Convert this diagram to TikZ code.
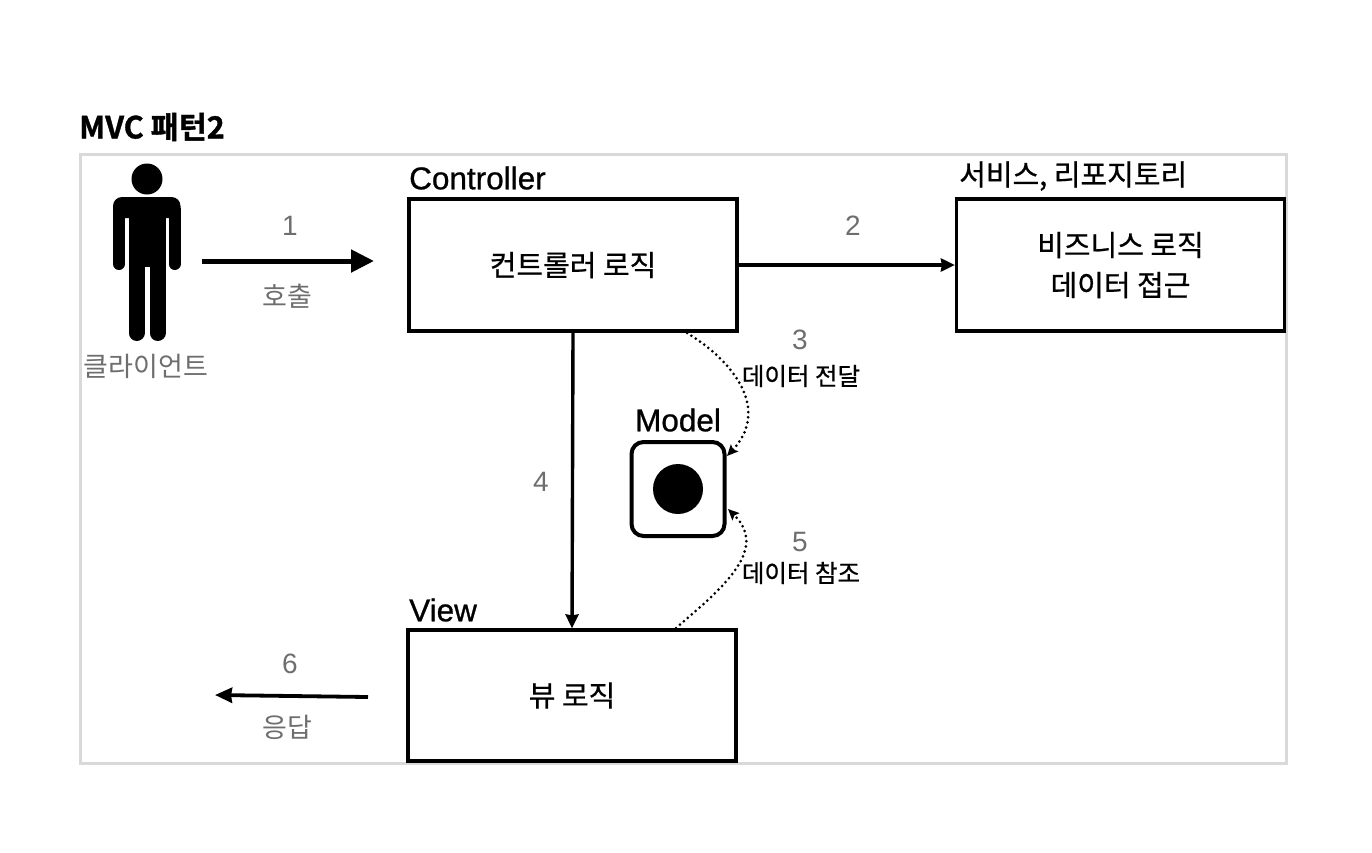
\documentclass[tikz,border=0pt]{standalone}
\usepackage{fontspec}
\setmainfont{Noto Sans CJK KR}
\usetikzlibrary{arrows.meta}
\newfontfamily\lat[FakeBold=0.8]{Liberation Sans}
\newfontfamily\num{Liberation Sans}
\newfontfamily\med[FakeBold=0.7]{Noto Sans CJK KR}
\newfontfamily\hvy[FakeBold=1.2]{Noto Sans CJK KR Bold}
\definecolor{gr}{HTML}{6E6E6E}
\tikzset{
 x=1pt,y=-1pt,
 boxn/.style={draw=black,line width=3.2pt,inner sep=0,font=\med\fontsize{29}{40}\selectfont,align=center},
 lab/.style={inner sep=0,font=\lat\fontsize{31.5}{34}\selectfont},
 labk/.style={inner sep=0,font=\med\fontsize{29}{32}\selectfont},
 grl/.style={inner sep=0,text=gr,font=\fontsize{27}{30}\selectfont},
 numl/.style={inner sep=0,text=gr,font=\num\fontsize{28}{30}\selectfont},
 small/.style={inner sep=0,font=\med\fontsize{24.5}{28}\selectfont},
 arr/.style={line width=3.4pt,-{Stealth[length=14pt,width=13pt,inset=1pt]}},
 dot/.style={line width=3pt,line cap=round,dash pattern=on 0pt off 5.2pt,-{Stealth[length=11pt,width=10pt,inset=2pt,line cap=butt,sep=0pt]}}
}
\begin{document}
\begin{tikzpicture}
\useasboundingbox (0,0) rectangle (1372,852);
\fill[white] (0,0) rectangle (1372,852);
\node[inner sep=0,font=\hvy\fontsize{30.5}{34}\selectfont,anchor=west] (title) at (79,127) {MVC 패턴2};
\node[draw=black!15,line width=3pt,minimum width=1206pt,minimum height=609pt,inner sep=0] (frame) at (683.5,459) {};
% person
\fill[black] (147,179) circle (15.5);
\fill[black,rounded corners=9pt] (113,218) -- (113,197) -- (180.5,197) -- (180.5,218) -- cycle;
\fill[black] (113,208) rectangle (180.5,218);
\fill[black] (129,210) rectangle (165.5,300);
\draw[black,line width=12pt,line cap=round] (119,212) -- (119,264);
\draw[black,line width=12pt,line cap=round] (174.5,212) -- (174.5,264);
\draw[black,line width=16pt,line cap=round] (136.5,280) -- (136.5,333);
\draw[black,line width=16pt,line cap=round] (157.5,280) -- (157.5,333);
\fill[white] (144.5,267) rectangle (149.5,335);
\node[grl] (clientl) at (146,366) {클라이언트};
\coordinate (a1s) at (202,261); \coordinate (a1e) at (374,261);
\draw[line width=5pt,-{Stealth[length=23pt,width=22pt,inset=0pt]}] (a1s) -- (a1e);
\node[numl] (n1) at (290,226) {1};
\node[grl] (call) at (287,296) {호출};
\node[boxn,minimum width=328pt,minimum height=132pt] (ctrl) at (573,265) {컨트롤러 로직};
\node[lab,anchor=west] (ctrll) at (409,178) {Controller};
\node[boxn,minimum width=328pt,minimum height=132pt] (svc) at (1120.5,265) {비즈니스 로직\\데이터 접근};
\node[labk,anchor=west] (svcl) at (959,176) {서비스, 리포지토리};
\draw[arr] (ctrl.east) -- (svc.west);
\node[numl] (n2) at (853,226) {2};
\node[boxn,minimum width=328pt,minimum height=131pt] (view) at (572,695.5) {뷰 로직};
\node[lab,anchor=west] (viewl) at (409,610) {View};
\draw[arr] (ctrl.south) -- (view.north);
\node[numl] (n4) at (541,482) {4};
\node[draw=black,line width=4pt,rounded corners=12pt,minimum width=93pt,minimum height=94pt,inner sep=0] (model) at (678,489) {};
\fill[black] (model.center) circle (25);
\node[lab] (modell) at (678,420) {Model};
\coordinate (c3) at (687,333); \coordinate (m3) at (727,456);
\draw[dot] (c3) .. controls (735,362) and (770,410) .. (m3);
\node[numl] (n3) at (800,340) {3};
\node[small] (d3) at (801,376) {데이터 전달};
\coordinate (v5) at (676,628); \coordinate (m5) at (728,509);
\draw[dot] (v5) .. controls (720,590) and (770,550) .. (m5);
\node[numl] (n5) at (800,542) {5};
\node[small] (d5) at (801,573) {데이터 참조};
\coordinate (a6s) at (368,697); \coordinate (a6e) at (215,695);
\draw[line width=3.8pt,-{Stealth[length=17pt,width=15pt,inset=1pt]}] (a6s) -- (a6e);
\node[numl] (n6) at (290,664) {6};
\node[grl] (resp) at (287,727) {응답};
\end{tikzpicture}
\end{document}
